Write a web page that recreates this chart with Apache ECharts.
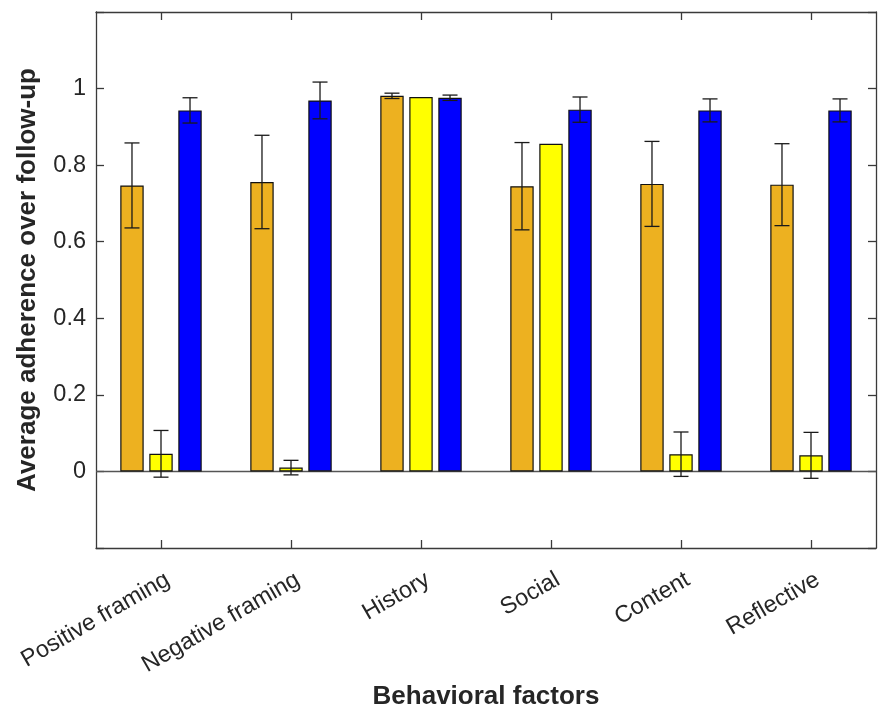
<!DOCTYPE html>
<html>
<head>
<meta charset="utf-8">
<script src="https://cdn.jsdelivr.net/npm/echarts@6/dist/echarts.min.js"></script>
<style>
html,body{margin:0;padding:0;background:#fff;}
#chart{width:881px;height:707px;}
</style>
</head>
<body>
<div id="chart"></div>
<script>
var categories = ['Positive framing', 'Negative framing', 'History', 'Social', 'Content', 'Reflective'];
var orangeValues = [0.747, 0.756, 0.981, 0.745, 0.751, 0.749];
var orangeErrors = [0.111, 0.122, 0.007, 0.114, 0.111, 0.107];
var yellowValues = [0.046, 0.010, 0.978, 0.856, 0.045, 0.042];
var yellowErrors = [0.061, 0.019, 0, 0, 0.058, 0.060];
var blueValues = [0.943, 0.969, 0.976, 0.945, 0.943, 0.943];
var blueErrors = [0.033, 0.048, 0.007, 0.033, 0.030, 0.030];
var yTickLabels = ['0', '0.2', '0.4', '0.6', '0.8', '1'];

var FONT = '"Liberation Sans", Arial, Helvetica, sans-serif';
var AXIS_COLOR = '#3a3a3a';
var TEXT_COLOR = '#262626';
var BAR_FRAC = 0.18;
var GAP_FRAC = 0.24;

function errorSeries(values, errors, slot) {
  var data = values.map(function (v, i) { return [i, v, errors[i]]; });
  return {
    type: 'custom',
    xAxisIndex: 0,
    yAxisIndex: 0,
    z: 5,
    silent: true,
    encode: { x: 0, y: 1 },
    data: data,
    renderItem: function (params, api) {
      var idx = api.value(0);
      var v = api.value(1);
      var e = api.value(2);
      if (!e) { return null; }
      var band = api.size([1, 0])[0];
      var center = api.coord([idx, v]);
      var x = center[0] + slot * band * BAR_FRAC * (1 + GAP_FRAC);
      var top = api.coord([idx, v + e])[1];
      var bot = api.coord([idx, v - e])[1];
      var cap = 7.5;
      var style = { stroke: '#1a1a1a', lineWidth: 1.3, fill: null };
      return {
        type: 'group',
        children: [
          { type: 'line', shape: { x1: x, y1: top, x2: x, y2: bot }, style: style },
          { type: 'line', shape: { x1: x - cap, y1: top, x2: x + cap, y2: top }, style: style },
          { type: 'line', shape: { x1: x - cap, y1: bot, x2: x + cap, y2: bot }, style: style }
        ]
      };
    }
  };
}

function barSeries(values, color) {
  return {
    type: 'bar',
    xAxisIndex: 0,
    yAxisIndex: 0,
    data: values,
    barWidth: (BAR_FRAC * 100) + '%',
    barGap: (GAP_FRAC * 100) + '%',
    itemStyle: { color: color, borderColor: '#111', borderWidth: 1.2 },
    silent: true,
    z: 3
  };
}

var chart = echarts.init(document.getElementById('chart'), null, { renderer: 'canvas' });

var orangeBar = barSeries(orangeValues, '#EDB120');
orangeBar.markLine = {
  silent: true,
  symbol: 'none',
  label: { show: false },
  lineStyle: { color: '#555555', width: 1.3, type: 'solid' },
  data: [{ yAxis: 0 }],
  z: 2
};

chart.setOption({
  animation: false,
  backgroundColor: '#ffffff',
  grid: { left: 96, right: 5, top: 12, bottom: 159, containLabel: false, outerBoundsMode: 'none' },
  xAxis: [
    {
      type: 'category',
      data: categories,
      position: 'bottom',
      boundaryGap: true,
      name: 'Behavioral factors',
      nameLocation: 'middle',
      nameGap: 127,
      nameTextStyle: { fontFamily: FONT, fontSize: 26, fontWeight: 'bold', color: TEXT_COLOR },
      axisLine: { show: true, onZero: false, lineStyle: { color: AXIS_COLOR, width: 1.3 } },
      axisTick: { show: true, inside: true, length: 8, alignWithLabel: true, lineStyle: { color: AXIS_COLOR, width: 1.3 } },
      axisLabel: { fontFamily: FONT, fontSize: 23.5, color: TEXT_COLOR, rotate: 30, margin: 34, interval: 0, padding: [0, -8, 0, 0] },
      splitLine: { show: false }
    },
    {
      type: 'category',
      data: categories,
      position: 'top',
      boundaryGap: true,
      axisLine: { show: true, onZero: false, lineStyle: { color: AXIS_COLOR, width: 1.3 } },
      axisTick: { show: true, inside: true, length: 8, alignWithLabel: true, lineStyle: { color: AXIS_COLOR, width: 1.3 } },
      axisLabel: { show: false },
      splitLine: { show: false }
    }
  ],
  yAxis: [
    {
      type: 'value',
      min: -0.2,
      max: 1.2,
      interval: 0.2,
      position: 'left',
      name: 'Average adherence over follow-up',
      nameLocation: 'middle',
      nameGap: 55,
      nameTextStyle: { fontFamily: FONT, fontSize: 26, fontWeight: 'bold', color: TEXT_COLOR },
      axisLine: { show: true, onZero: false, lineStyle: { color: AXIS_COLOR, width: 1.3 } },
      axisTick: { show: true, inside: true, length: 8, lineStyle: { color: AXIS_COLOR, width: 1.3 } },
      axisLabel: {
        fontFamily: FONT, fontSize: 23.5, color: TEXT_COLOR, margin: 10,
        formatter: function (v) {
          var r = Math.round(v * 10) / 10;
          var i = Math.round(r / 0.2);
          return (i >= 0 && i < yTickLabels.length) ? yTickLabels[i] : '';
        }
      },
      splitLine: { show: false }
    },
    {
      type: 'value',
      min: -0.2,
      max: 1.2,
      interval: 0.2,
      position: 'right',
      axisLine: { show: true, onZero: false, lineStyle: { color: AXIS_COLOR, width: 1.3 } },
      axisTick: { show: true, inside: true, length: 8, lineStyle: { color: AXIS_COLOR, width: 1.3 } },
      axisLabel: { show: false },
      splitLine: { show: false }
    }
  ],
  series: [
    orangeBar,
    barSeries(yellowValues, '#FFFF00'),
    barSeries(blueValues, '#0000FF'),
    errorSeries(orangeValues, orangeErrors, -1),
    errorSeries(yellowValues, yellowErrors, 0),
    errorSeries(blueValues, blueErrors, 1)
  ]
});
</script>
</body>
</html>
